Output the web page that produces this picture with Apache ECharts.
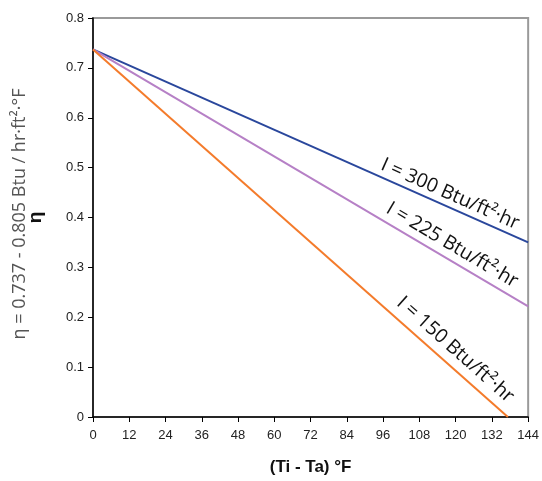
<!DOCTYPE html>
<html>
<head>
<meta charset="utf-8">
<script src="https://cdn.jsdelivr.net/npm/echarts@6/dist/echarts.min.js"></script>
<style>
html,body{margin:0;padding:0;background:#fff;}
#chart{width:542px;height:481px;}
</style>
</head>
<body>
<div id="chart"></div>
<script>
// Data
const seriesNames = ['I = 300 Btu/ft²·hr', 'I = 225 Btu/ft²·hr', 'I = 150 Btu/ft²·hr'];
const line300 = [[0, 0.737], [144, 0.350]];
const line225 = [[0, 0.737], [144, 0.222]];
const line150 = [[0, 0.737], [137.3, 0]];
const xTicks = [0, 12, 24, 36, 48, 60, 72, 84, 96, 108, 120, 132, 144];
const yTicks = [0, 0.1, 0.2, 0.3, 0.4, 0.5, 0.6, 0.7, 0.8];
const colors = ['#2a479c', '#b680c6', '#f47b2b'];
const allLines = [line300, line225, line150];

const chart = echarts.init(document.getElementById('chart'), null, {renderer: 'canvas'});
const font = '"Liberation Sans", Arial, sans-serif';

const option = {
  animation: false,
  grid: {left: 93, right: 13, top: 18, bottom: 60, show: true, borderColor: '#9a9a9a', borderWidth: 2, backgroundColor: '#fff'},
  xAxis: {
    type: 'value', min: xTicks[0], max: xTicks[xTicks.length - 1], interval: 12,
    name: '(Ti - Ta) °F', nameLocation: 'middle', nameGap: 42,
    nameTextStyle: {fontFamily: font, fontSize: 17, fontWeight: 'bold', color: '#111'},
    axisLine: {show: true, onZero: false, lineStyle: {color: '#000', width: 1.5}},
    axisTick: {show: true, inside: false, length: 5, lineStyle: {color: '#000'}},
    axisLabel: {fontFamily: font, fontSize: 13, color: '#222', margin: 12},
    splitLine: {show: false}
  },
  yAxis: {
    type: 'value', min: yTicks[0], max: yTicks[yTicks.length - 1], interval: 0.1,
    name: 'η', nameLocation: 'middle', nameGap: 48, nameRotate: 90,
    nameTextStyle: {fontFamily: font, fontSize: 19, fontWeight: 'bold', color: '#111'},
    axisLine: {show: true, onZero: false, lineStyle: {color: '#000', width: 1.5}},
    axisTick: {show: true, inside: false, length: 5, lineStyle: {color: '#000'}},
    axisLabel: {fontFamily: font, fontSize: 13, color: '#222', margin: 9,
      formatter: v => (Math.round(v * 10) / 10).toString()},
    splitLine: {show: false}
  },
  series: allLines.map((d, i) => ({
    type: 'line', name: seriesNames[i], data: d, showSymbol: false, symbol: 'none',
    lineStyle: {color: colors[i], width: 2}, z: 3
  })),
  graphic: [{
    type: 'text', x: 20, y: 214, rotation: Math.PI / 2, originX: 0, originY: 0,
    style: {text: 'η = 0.737 - 0.805 Btu / hr·ft²·°F', fontFamily: '"Open Sans", sans-serif', fontSize: 18,
      fill: '#555', align: 'center', verticalAlign: 'middle'}
  }]
};
chart.setOption(option);

// Labels along lines, positioned through the chart's own scales
const labelX = 116.5;
const gaps = [12.5, 14, 15.5];
const graphics = option.graphic.slice();
allLines.forEach((d, i) => {
  const p0 = chart.convertToPixel({gridIndex: 0}, d[0]);
  const p1 = chart.convertToPixel({gridIndex: 0}, d[1]);
  const a = Math.atan2(p1[1] - p0[1], p1[0] - p0[0]);
  const t = (labelX - d[0][0]) / (d[1][0] - d[0][0]);
  const yv = d[0][1] + t * (d[1][1] - d[0][1]);
  const p = chart.convertToPixel({gridIndex: 0}, [labelX, yv]);
  const nx = Math.sin(a), ny = -Math.cos(a);
  graphics.push({
    type: 'text', x: p[0] + nx * gaps[i], y: p[1] + ny * gaps[i], rotation: -a,
    style: {text: seriesNames[i], fontFamily: '"Open Sans", sans-serif', fontSize: 19.5, fill: '#111',
      align: 'center', verticalAlign: 'middle'}, z: 10
  });
});
chart.setOption({graphic: graphics});
</script>
</body>
</html>
